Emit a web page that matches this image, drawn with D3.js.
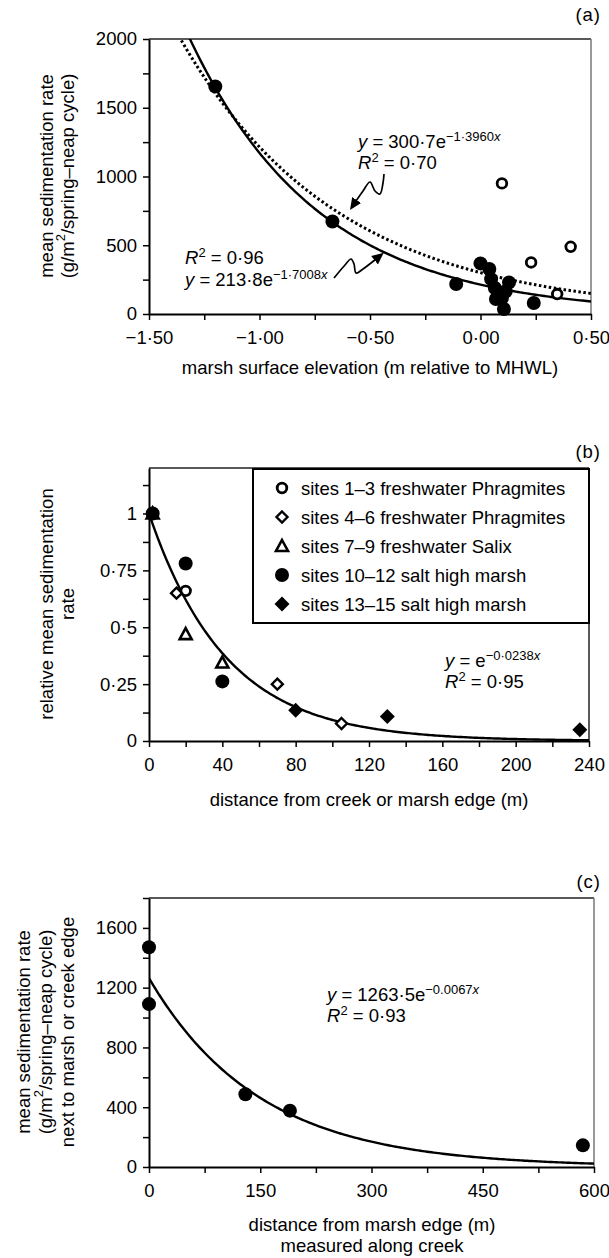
<!DOCTYPE html>
<html>
<head>
<meta charset="utf-8">
<script src="https://cdn.jsdelivr.net/npm/d3@7"></script>
<style>
  body { margin: 0; background: #fff; }
  svg { display: block; }
  text { font-family: "Liberation Sans", Arial, sans-serif; fill: #000; }
</style>
</head>
<body>
<svg id="chart" width="609" height="1258"></svg>
<script>
// ---- panel (a): sedimentation vs elevation
const elevTicks = [-1.5, -1, -0.5, 0, 0.5];
const elevTickLabels = ["−1·50", "−1·00", "−0·50", "0·00", "0·50"];
const rateTicksA = [0, 500, 1000, 1500, 2000];
const rateTickLabelsA = ["0", "500", "1000", "1500", "2000"];
const saltElev = [-1.20, -0.67, -0.11, 0.00, 0.04, 0.048, 0.065, 0.079, 0.070, 0.097, 0.114, 0.129, 0.106, 0.241];
const saltRate = [1655, 673, 218, 368, 327, 254, 189, 153, 109, 116, 165, 230, 36, 80];
const freshElev = [0.097, 0.229, 0.408, 0.347];
const freshRate = [950, 375, 489, 145];
// printed fits: y = a * e^(-b x)
const fitSalt = [213.8, 1.7008];
const fitAll = [300.7, 1.3960];

// ---- panel (b): relative rate vs distance
const distTicks = [0, 40, 80, 120, 160, 200, 240];
const distTickLabels = ["0", "40", "80", "120", "160", "200", "240"];
const relTicks = [0, 0.25, 0.5, 0.75, 1];
const relTickLabels = ["0", "0·25", "0·5", "0·75", "1"];
const groups = ["sites 1–3 freshwater Phragmites", "sites 4–6 freshwater Phragmites",
                "sites 7–9 freshwater Salix", "sites 10–12 salt high marsh", "sites 13–15 salt high marsh"];
const groupSymbols = ["openCircle", "openDiamond", "openTriangle", "filledCircle", "filledDiamond"];
const groupDist = [[20], [15, 70, 105], [2, 20, 40], [2, 20, 40], [80, 130, 235]];
const groupRel = [[0.66], [0.65, 0.25, 0.077], [1.0, 0.47, 0.345], [1.0, 0.78, 0.262], [0.135, 0.108, 0.05]];
const fitRel = [1, 0.0238];

// ---- panel (c): rate next to edge vs distance along creek
const creekTicks = [0, 150, 300, 450, 600];
const creekTickLabels = ["0", "150", "300", "450", "600"];
const rateTicksC = [0, 400, 800, 1200, 1600];
const rateTickLabelsC = ["0", "400", "800", "1200", "1600"];
const creekDist = [0, 0, 130, 190, 585];
const creekRate = [1470, 1090, 487, 377, 145];
const fitCreek = [1263.5, 0.0067];

const svg = d3.select("#chart");
const FS = 18.5;

svg.append("defs").append("marker")
  .attr("id", "arrow")
  .attr("viewBox", "0 0 10 10")
  .attr("refX", 7).attr("refY", 5)
  .attr("markerWidth", 7).attr("markerHeight", 7)
  .attr("orient", "auto")
  .append("path")
  .attr("d", "M0,0.5 L10,5 L0,9.5 Z")
  .attr("fill", "#000");

function minorTicks(lo, hi, step) {
  let out = [];
  for (let v = lo; v <= hi + 1e-9; v += step) out.push(+v.toFixed(6));
  return out;
}

function drawFrame(x, y, xt, xl, xStep, yt, yl, yStep, rightColor) {
  let [x0, x1] = x.range();
  let [y0, y1] = y.range();
  let xs = minorTicks(x.domain()[0], x.domain()[1], xStep);
  let ys = minorTicks(y.domain()[0], y.domain()[1], yStep);
  let fmt = (ticks, labels) => v => {
    let i = ticks.findIndex(t => Math.abs(t - v) < 1e-9);
    return i < 0 ? "" : labels[i];
  };

  // top and right border
  svg.append("line").attr("x1", x0).attr("x2", x1).attr("y1", y1).attr("y2", y1)
     .attr("stroke", "#222").attr("stroke-width", 1.3);
  svg.append("line").attr("x1", x1).attr("x2", x1).attr("y1", y1).attr("y2", y0)
     .attr("stroke", rightColor).attr("stroke-width", 1.5);

  let ax = svg.append("g").attr("transform", `translate(0,${y0})`)
    .call(d3.axisBottom(x).tickValues(xs).tickFormat(fmt(xt, xl)).tickSize(6).tickPadding(11).tickSizeOuter(0));
  let ay = svg.append("g").attr("transform", `translate(${x0},0)`)
    .call(d3.axisLeft(y).tickValues(ys).tickFormat(fmt(yt, yl)).tickSize(6).tickPadding(6).tickSizeOuter(0));
  [ax, ay].forEach(a => {
    a.attr("font-size", FS).attr("font-family", null);
    a.select(".domain").attr("stroke-width", 2);
    a.selectAll(".tick line").attr("stroke-width", 1.5);
  });
}

function fitLine(x, y, fit, clipId) {
  let [lo, hi] = x.domain();
  let xs = d3.range(0, 201).map(i => lo + (hi - lo) * i / 200);
  return svg.append("path")
    .datum(xs)
    .attr("clip-path", `url(#${clipId})`)
    .attr("fill", "none")
    .attr("stroke", "#000")
    .attr("d", d3.line().x(d => x(d)).y(d => y(fit[0] * Math.exp(-fit[1] * d))));
}

function addClip(id, x, y) {
  svg.select("defs").append("clipPath").attr("id", id)
    .append("rect")
    .attr("x", x.range()[0]).attr("y", y.range()[1])
    .attr("width", x.range()[1] - x.range()[0]).attr("height", y.range()[0] - y.range()[1]);
}

function symbol(g, kind, cx, cy) {
  if (kind === "filledCircle") {
    g.append("circle").attr("cx", cx).attr("cy", cy).attr("r", 7).attr("fill", "#000");
  } else if (kind === "openCircle") {
    g.append("circle").attr("cx", cx).attr("cy", cy).attr("r", 4.8)
     .attr("fill", "#fff").attr("stroke", "#000").attr("stroke-width", 2.8);
  } else if (kind === "openDiamond") {
    g.append("path").attr("transform", `translate(${cx},${cy})`)
     .attr("d", "M0,-5.5 L5.5,0 L0,5.5 L-5.5,0 Z")
     .attr("fill", "#fff").attr("stroke", "#000").attr("stroke-width", 2.4);
  } else if (kind === "filledDiamond") {
    g.append("path").attr("transform", `translate(${cx},${cy})`)
     .attr("d", "M0,-7.5 L7.5,0 L0,7.5 L-7.5,0 Z").attr("fill", "#000");
  } else if (kind === "openTriangle") {
    g.append("path").attr("transform", `translate(${cx},${cy})`)
     .attr("d", "M0,-6 L6,5 L-6,5 Z")
     .attr("fill", "#fff").attr("stroke", "#000").attr("stroke-width", 2.6)
     .attr("stroke-linejoin", "miter");
  }
}

// equation: y = <coef>e^<exp>x  and  R^2 = <r2>; r2First puts the R² line on top
function equation(x, y, coef, expo, r2, r2First) {
  let yEq = r2First ? y + 22 : y;
  let yR = r2First ? y : y + 21;
  let t = svg.append("text").attr("x", x).attr("y", yEq).attr("font-size", FS);
  t.append("tspan").attr("font-style", "italic").text("y");
  t.append("tspan").text(" = " + coef + "e");
  t.append("tspan").attr("font-size", 13).attr("dy", -7).text(expo);
  t.append("tspan").attr("font-size", 13).attr("font-style", "italic").text("x");
  let r = svg.append("text").attr("x", x).attr("y", yR).attr("font-size", FS);
  r.append("tspan").attr("font-style", "italic").text("R");
  r.append("tspan").attr("font-size", 13).attr("dy", -7).text("2");
  r.append("tspan").attr("dy", 7).text(" = " + r2);
}

function yTitle(lines, xs, cy) {
  lines.forEach((s, i) => {
    svg.append("text")
      .attr("transform", `translate(${xs[i]},${cy}) rotate(-90)`)
      .attr("text-anchor", "middle")
      .attr("dominant-baseline", "central")
      .attr("font-size", FS)
      .text(s);
  });
}

function yTitleSup(parts, x, cy) {
  let t = svg.append("text")
    .attr("transform", `translate(${x},${cy}) rotate(-90)`)
    .attr("text-anchor", "middle")
    .attr("dominant-baseline", "central")
    .attr("font-size", FS);
  t.append("tspan").text(parts[0]);
  t.append("tspan").attr("font-size", 13).attr("dy", -7).text(parts[1]);
  t.append("tspan").attr("dy", 7).text(parts[2]);
}

function panelLabel(s, y) {
  svg.append("text").attr("x", 601).attr("y", y).attr("text-anchor", "end")
    .attr("font-size", FS).attr("letter-spacing", 1).text(s);
}

function squiggle(pts) {
  svg.append("path")
    .datum(pts)
    .attr("fill", "none").attr("stroke", "#000").attr("stroke-width", 1.7)
    .attr("marker-end", "url(#arrow)")
    .attr("d", d3.line().curve(d3.curveCatmullRom));
}

// ================= panel (a)
const xA = d3.scaleLinear().domain([-1.5, 0.5]).range([149, 591]);
const yA = d3.scaleLinear().domain([0, 2000]).range([314, 39]);
addClip("clipA", xA, yA);
drawFrame(xA, yA, elevTicks, elevTickLabels, 0.25, rateTicksA, rateTickLabelsA, 250, "#777");

fitLine(xA, yA, fitAll, "clipA").attr("stroke-width", 3).attr("stroke-dasharray", "2.5,2.5");
fitLine(xA, yA, fitSalt, "clipA").attr("stroke-width", 2.4);

let gA = svg.append("g");
saltElev.forEach((v, i) => symbol(gA, "filledCircle", xA(v), yA(saltRate[i])));
freshElev.forEach((v, i) => symbol(gA, "openCircle", xA(v), yA(freshRate[i])));

equation(358, 148, "300·7", "−1·3960", "0·70", false);
equation(185, 264, "213·8", "−1·7008", "0·96", true);
squiggle([[384, 174], [383, 183], [380, 194], [375, 191], [370, 182], [363, 191], [352, 207]]);
squiggle([[334, 278], [345, 265], [351, 259], [354, 264], [356, 273], [363, 269], [381, 255]]);

panelLabel("(a)", 21);
yTitle(["mean sedimentation rate"], [46], 176);
yTitleSup(["(g/m", "2", "/spring–neap cycle)"], 67, 176);
svg.append("text").attr("x", 370).attr("y", 374).attr("text-anchor", "middle")
  .attr("font-size", FS).text("marsh surface elevation (m relative to MHWL)");

// ================= panel (b)
const xB = d3.scaleLinear().domain([0, 240]).range([149, 589]);
const yB = d3.scaleLinear().domain([0, 1.2]).range([741, 468]);
addClip("clipB", xB, yB);
drawFrame(xB, yB, distTicks, distTickLabels, 20, relTicks, relTickLabels, 0.125, "#222");
fitLine(xB, yB, fitRel, "clipB").attr("stroke-width", 2.4);

let gB = svg.append("g");
groups.forEach((name, k) => {
  groupDist[k].forEach((d, i) => symbol(gB, groupSymbols[k], xB(d), yB(groupRel[k][i])));
});

// legend
let leg = svg.append("g");
leg.append("rect").attr("x", 253).attr("y", 469).attr("width", 336).attr("height", 154)
  .attr("fill", "#fff").attr("stroke", "#000").attr("stroke-width", 2);
groups.forEach((name, k) => {
  let ly = 488 + k * 29;
  symbol(leg, groupSymbols[k], 282, ly);
  leg.append("text").attr("x", 301).attr("y", ly).attr("dominant-baseline", "central")
    .attr("font-size", FS).text(name);
});

equation(445, 667, "", "−0·0238", "0·95", false);
panelLabel("(b)", 458);
yTitle(["relative mean sedimentation", "rate"], [46, 67], 604);
svg.append("text").attr("x", 369).attr("y", 806).attr("text-anchor", "middle")
  .attr("font-size", FS).text("distance from creek or marsh edge (m)");

// ================= panel (c)
const xC = d3.scaleLinear().domain([0, 600]).range([149, 594]);
const yC = d3.scaleLinear().domain([0, 1800]).range([1167, 898]);
addClip("clipC", xC, yC);
drawFrame(xC, yC, creekTicks, creekTickLabels, 75, rateTicksC, rateTickLabelsC, 200, "#777");
fitLine(xC, yC, fitCreek, "clipC").attr("stroke-width", 2.4);

let gC = svg.append("g");
creekDist.forEach((d, i) => symbol(gC, "filledCircle", xC(d), yC(creekRate[i])));

equation(327, 1001, "1263·5", "−0.0067", "0·93", false);
panelLabel("(c)", 888);
yTitle(["mean sedimentation rate"], [23], 1032);
yTitleSup(["(g/m", "2", "/spring–neap cycle)"], 45, 1032);
yTitle(["next to marsh or creek edge"], [67], 1032);
svg.append("text").attr("x", 372).attr("y", 1231).attr("text-anchor", "middle")
  .attr("font-size", FS).text("distance from marsh edge (m)");
svg.append("text").attr("x", 372).attr("y", 1252).attr("text-anchor", "middle")
  .attr("font-size", FS).text("measured along creek");
</script>
</body>
</html>
